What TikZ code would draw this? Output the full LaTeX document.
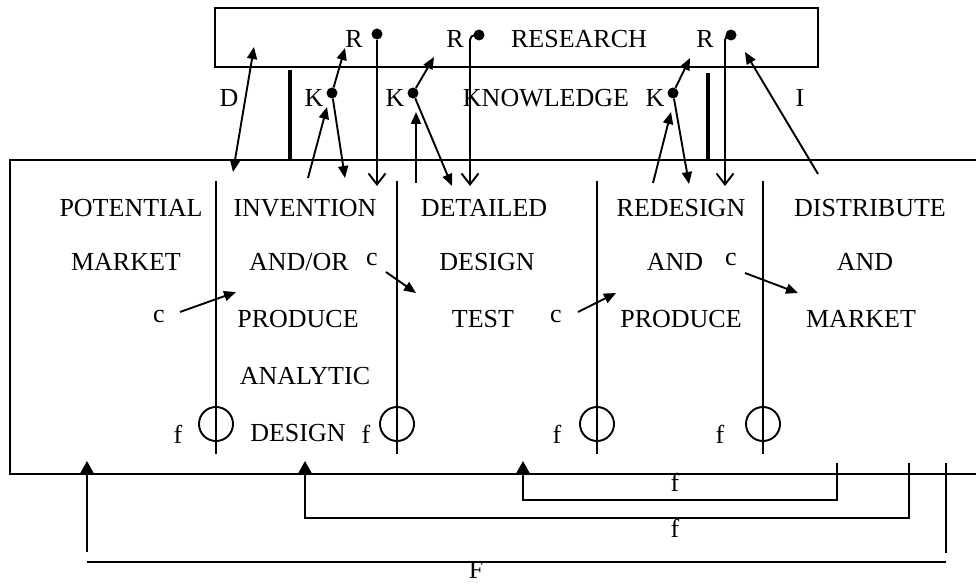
\documentclass[tikz,border=0pt]{standalone}
\usepackage{fontspec}
\setmainfont{Liberation Serif}
\usetikzlibrary{arrows.meta}
\begin{document}
\begin{tikzpicture}[x=1pt,y=-1pt,
  lbl/.style={inner sep=0pt, font=\fontsize{26}{30}\selectfont},
  ln/.style={line width=1.9pt},
  frame/.style={line width=2.3pt},
  bar/.style={line width=3.4pt},
  fa/.style={ln, -{Triangle[length=12pt,width=10pt]}},
  fab/.style={ln, {Triangle[length=12pt,width=10pt]}-{Triangle[length=12pt,width=10pt]}},
  ba/.style={ln, -{Triangle[length=13pt,width=14pt]}},
  oa/.style={ln, -{Straight Barb[length=11pt,width=17pt]}},
  kdot/.style={circle, fill, inner sep=0pt, minimum size=11pt},
  ring/.style={circle, draw, line width=1.9pt, minimum size=34pt, inner sep=0pt},
]
\useasboundingbox (0,0) rectangle (976,585);

% ---- research layer ----
\draw[frame] (215,8) rectangle (818,67);
\node[lbl] (r1) at (354,39) {R};
\node[lbl] (r2) at (455,39) {R};
\node[lbl] (research) at (579,39) {RESEARCH};
\node[lbl] (r3) at (705,39) {R};
\node[kdot] (rd1) at (377,34) {};
\node[kdot] (rd2) at (479,35) {};
\node[kdot] (rd3) at (731,35) {};

% ---- knowledge layer ----
\node[lbl] (dl) at (229,98) {D};
\node[lbl] (k1) at (314,98) {K};
\node[lbl] (k2) at (395,98) {K};
\node[lbl] (know) at (546,98) {KNOWLEDGE};
\node[lbl] (k3) at (655,98) {K};
\node[lbl] (il) at (800,98) {I};
\node[kdot] (kd1) at (332,93) {};
\node[kdot] (kd2) at (413,93) {};
\node[kdot] (kd3) at (673,93) {};

\draw[bar] (290,70) -- (290,160);
\draw[bar] (708,73) -- (708,160);

% ---- chain of innovation ----
\draw[frame] (976,160) -- (10,160) -- (10,474) -- (976,474);

\foreach \x/\n in {216/1,397/2,597/3,763/4}{
  \coordinate (top\n) at (\x,181);
  \coordinate (bot\n) at (\x,454);
  \draw[ln] (top\n) -- (bot\n);
  \node[ring] (ring\n) at (\x,424) {};
}

\node[lbl] (t11) at (131,208) {POTENTIAL};
\node[lbl] (t12) at (126,262) {MARKET};
\node[lbl] (t21) at (305,208) {INVENTION};
\node[lbl] (t22) at (299,262) {AND/OR};
\node[lbl] (t23) at (298,319) {PRODUCE};
\node[lbl] (t24) at (305,376) {ANALYTIC};
\node[lbl] (t25) at (298,433) {DESIGN};
\node[lbl] (t31) at (484,208) {DETAILED};
\node[lbl] (t32) at (487,262) {DESIGN};
\node[lbl] (t33) at (483,319) {TEST};
\node[lbl] (t41) at (681,208) {REDESIGN};
\node[lbl] (t42) at (675,262) {AND};
\node[lbl] (t43) at (681,319) {PRODUCE};
\node[lbl] (t51) at (870,208) {DISTRIBUTE};
\node[lbl] (t52) at (865,262) {AND};
\node[lbl] (t53) at (861,319) {MARKET};

% feedback labels at the rings
\node[lbl] (f1) at (178,434) {f};
\node[lbl] (f2) at (366,434) {f};
\node[lbl] (f3) at (557,434) {f};
\node[lbl] (f4) at (720,434) {f};

% central chain links
\node[lbl] (c1) at (159,317) {c};
\node[lbl] (c2) at (372,260) {c};
\node[lbl] (c3) at (556,317) {c};
\node[lbl] (c4) at (731,260) {c};
\coordinate (c1e) at (236,292);
\coordinate (c2e) at (416,293);
\coordinate (c3e) at (616,293);
\coordinate (c4e) at (798,293);
\draw[fa] (180,312) -- (c1e);
\draw[fa] (386,272) -- (c2e);
\draw[fa] (578,312) -- (c3e);
\draw[fa] (745,273) -- (c4e);

% research arrows down into the chain
\coordinate (rd1e) at (377,186);
\coordinate (rd2e) at (470,186);
\coordinate (rd3e) at (725,186);
\draw[oa] (rd1) -- (rd1e);
\draw[oa, rounded corners=5pt] (rd2.center) -| (rd2e);
\draw[oa, rounded corners=5pt] (rd3.center) -| (rd3e);

% D link
\coordinate (da) at (233,172);
\coordinate (db) at (254,47);
\draw[fab] (da) -- (db);

% K links
\coordinate (k1up) at (345,48);
\coordinate (k1in) at (308,178);
\coordinate (k1to) at (327,107);
\coordinate (k1dn) at (345,178);
\draw[fa] (kd1) -- (k1up);
\draw[fa] (k1in) -- (k1to);
\draw[fa] (kd1) -- (k1dn);

\coordinate (k2up) at (434,57);
\coordinate (k2dn) at (452,186);
\coordinate (k2in) at (416,183);
\coordinate (k2to) at (416,112);
\draw[fa] (kd2) -- (k2up);
\draw[fa] (kd2) -- (k2dn);
\draw[fa] (k2in) -- (k2to);

\coordinate (k3up) at (690,58);
\coordinate (k3in) at (653,183);
\coordinate (k3to) at (671,112);
\coordinate (k3dn) at (689,184);
\draw[fa] (kd3) -- (k3up);
\draw[fa] (k3in) -- (k3to);
\draw[fa] (kd3) -- (k3dn);

% I link
\coordinate (ia) at (818,174);
\coordinate (ib) at (745,52);
\draw[fa] (ia) -- (ib);

% ---- feedback loops ----
\coordinate (fb1s) at (837,463);
\coordinate (fb1e) at (523,461);
\draw[ba] (fb1s) |- (523,500) -- (fb1e);
\coordinate (fb2s) at (909,463);
\coordinate (fb2e) at (305,461);
\draw[ba] (fb2s) |- (305,518) -- (fb2e);
\coordinate (fF1) at (946,463);
\coordinate (fF2) at (946,553);
\draw[ln] (fF1) -- (fF2);
\coordinate (fF3) at (87,552);
\coordinate (fF4) at (87,461);
\draw[ba] (fF3) -- (fF4);
\coordinate (hl) at (87,562);
\coordinate (hr) at (946,562);
\draw[line width=2.6pt] (hl) -- (hr);

\node[lbl] (fl1) at (675,482) {f};
\node[lbl] (fl2) at (675,528) {f};
\node[lbl] (Fl) at (476,570) {F};
\end{tikzpicture}
\end{document}
